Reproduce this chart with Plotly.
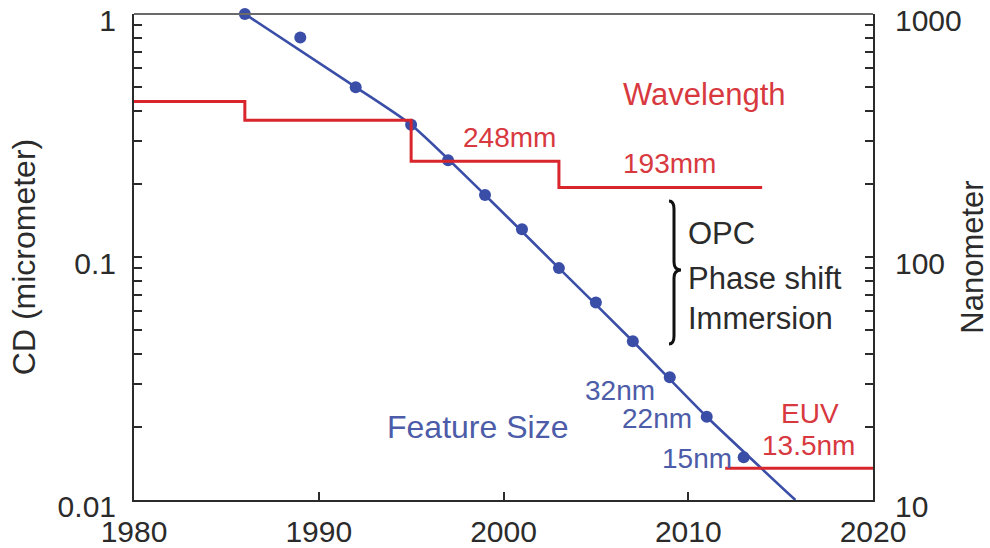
import plotly.graph_objects as go

# Feature size (critical dimension, micrometer) by year
cd_years = [1986, 1989, 1992, 1995, 1997, 1999, 2001, 2003, 2005, 2007, 2009, 2011, 2013]
cd_um = [1.0, 0.80, 0.50, 0.35, 0.25, 0.18, 0.13, 0.09, 0.065, 0.045, 0.032, 0.022, 0.015]

# Scaling trend line through the feature-size data
trend_years = [1986, 1992, 1995, 1999, 2003, 2007, 2011, 2015.8]
trend_um = [1.0, 0.5, 0.35, 0.18, 0.09, 0.045, 0.022, 0.01]

# Lithography wavelength (nanometer), step changes by year
wl_years = [1980, 1986, 1995, 2003, 2014]
wl_nm = [436, 365, 248, 193, 193]

# EUV wavelength
euv_years = [2012, 2020]
euv_nm = [13.5, 13.5]

BLUE = "#3a4ea8"
BLUE_TXT = "#4d5ca8"
RED = "#d8262c"
RED_TXT = "#d8393f"
INK = "#2b2b2b"
FONT = "Liberation Sans, Arial, Helvetica, sans-serif"

# plot-area geometry in pixels (for placing free-floating labels)
W, H = 990, 548
L, R, T, B = 134, 117, 14, 48
PW, PH = W - L - R, H - T - B


def px(xp):
    return (xp - L) / PW


def py(yp):
    return (H - B - yp) / PH


fig = go.Figure()

fig.add_trace(go.Scatter(
    x=trend_years, y=trend_um, mode="lines",
    line=dict(color=BLUE, width=2.6, shape="spline", smoothing=0.6),
    hoverinfo="skip", showlegend=False, yaxis="y"))

fig.add_trace(go.Scatter(
    x=cd_years, y=cd_um, mode="markers",
    marker=dict(color=BLUE, size=12),
    showlegend=False, yaxis="y", cliponaxis=False))

fig.add_trace(go.Scatter(
    x=wl_years, y=wl_nm, mode="lines",
    line=dict(color=RED, width=3, shape="hv"),
    showlegend=False, yaxis="y2"))

fig.add_trace(go.Scatter(
    x=euv_years, y=euv_nm, mode="lines",
    line=dict(color=RED, width=3),
    showlegend=False, yaxis="y2"))

minor_cd = [k * 10 ** e for e in (-2, -1) for k in range(2, 10)]
minor_nm = [k * 10 ** e for e in (1, 2) for k in range(2, 10)]

axis_font = dict(family=FONT, size=30, color=INK)
tick_style = dict(ticks="inside", ticklen=8, tickwidth=1.5, tickcolor=INK)

fig.update_layout(
    width=W, height=H,
    margin=dict(l=L, r=R, t=T, b=B, pad=0, autoexpand=False),
    paper_bgcolor="white", plot_bgcolor="white",
    font=dict(family=FONT, color=INK),
    xaxis=dict(
        range=[1980, 2020], tickvals=[1980, 1990, 2000, 2010, 2020],
        **tick_style, ticklabelstandoff=4, automargin=False,
        ticklabeloverflow="allow",
        showline=True, linecolor=INK, linewidth=2,
        showgrid=False, zeroline=False, tickfont=axis_font,
    ),
    yaxis=dict(
        type="log", range=[-2, 0],
        tickvals=[0.01, 0.1, 1], ticktext=["0.01", "0.1", "1"],
        **tick_style, ticklabelstandoff=10, ticklabelshift=6, automargin=False,
        ticklabeloverflow="allow",
        minor=dict(tickvals=minor_cd, showgrid=False, **tick_style),
        showline=True, linecolor=INK, linewidth=2,
        showgrid=False, zeroline=False, tickfont=axis_font,
        title=dict(text="CD (micrometer)", font=dict(family=FONT, size=32, color=INK),
                   standoff=12),
    ),
    yaxis2=dict(
        type="log", range=[1, 3], overlaying="y", side="right",
        tickvals=[10, 100, 1000], ticktext=["10", "100", "1000"],
        **tick_style, ticklabelstandoff=14, ticklabelshift=6, automargin=False,
        ticklabeloverflow="allow",
        minor=dict(tickvals=minor_nm, showgrid=False, **tick_style),
        showline=True, linecolor=INK, linewidth=2,
        showgrid=False, zeroline=False, tickfont=axis_font,
        title=dict(text="Nanometer", font=dict(family=FONT, size=31, color=INK),
                   standoff=10),
    ),
)

# top frame edge
fig.add_shape(type="line", xref="paper", yref="paper", x0=0, x1=1, y0=1, y1=1,
              line=dict(color="#6a6a6a", width=2))


def label(text, x, y, color, size, xanchor="center"):
    fig.add_annotation(text=text, x=x, y=y, xref="x", yref="paper",
                       xanchor=xanchor, yanchor="middle", showarrow=False,
                       font=dict(family=FONT, size=size, color=color))


label("Wavelength", 2010.9, py(95), RED_TXT, 31)
label("248mm", 2000.3, py(138), RED_TXT, 28)
label("193mm", 2009.0, py(163), RED_TXT, 28)
label("OPC", 2009.9, py(233), INK, 31, "left")
label("Phase shift", 2009.9, py(278), INK, 31, "left")
label("Immersion", 2009.9, py(318), INK, 31, "left")
label("32nm", 2006.3, py(390), BLUE_TXT, 28)
label("22nm", 2008.3, py(418), BLUE_TXT, 28)
label("15nm", 2010.5, py(458), BLUE_TXT, 28)
label("Feature Size", 1998.6, py(427), BLUE_TXT, 32)
label("EUV", 2016.6, py(413), RED_TXT, 28)
label("13.5nm", 2016.5, py(445), RED_TXT, 28)

# curly brace grouping the resolution-enhancement techniques
bx, tip = 674, 681
top, mid, bot = 201, 270, 344
brace = (
    f"M {px(bx - 5)},{py(top)} "
    f"Q {px(bx)},{py(top)} {px(bx)},{py(top + 8)} "
    f"L {px(bx)},{py(mid - 8)} "
    f"Q {px(bx)},{py(mid)} {px(tip)},{py(mid)} "
    f"Q {px(bx)},{py(mid)} {px(bx)},{py(mid + 8)} "
    f"L {px(bx)},{py(bot - 8)} "
    f"Q {px(bx)},{py(bot)} {px(bx - 5)},{py(bot)}"
)
fig.add_shape(type="path", path=brace, xref="paper", yref="paper",
              line=dict(color="#111111", width=3))

fig.write_html("out.html")
